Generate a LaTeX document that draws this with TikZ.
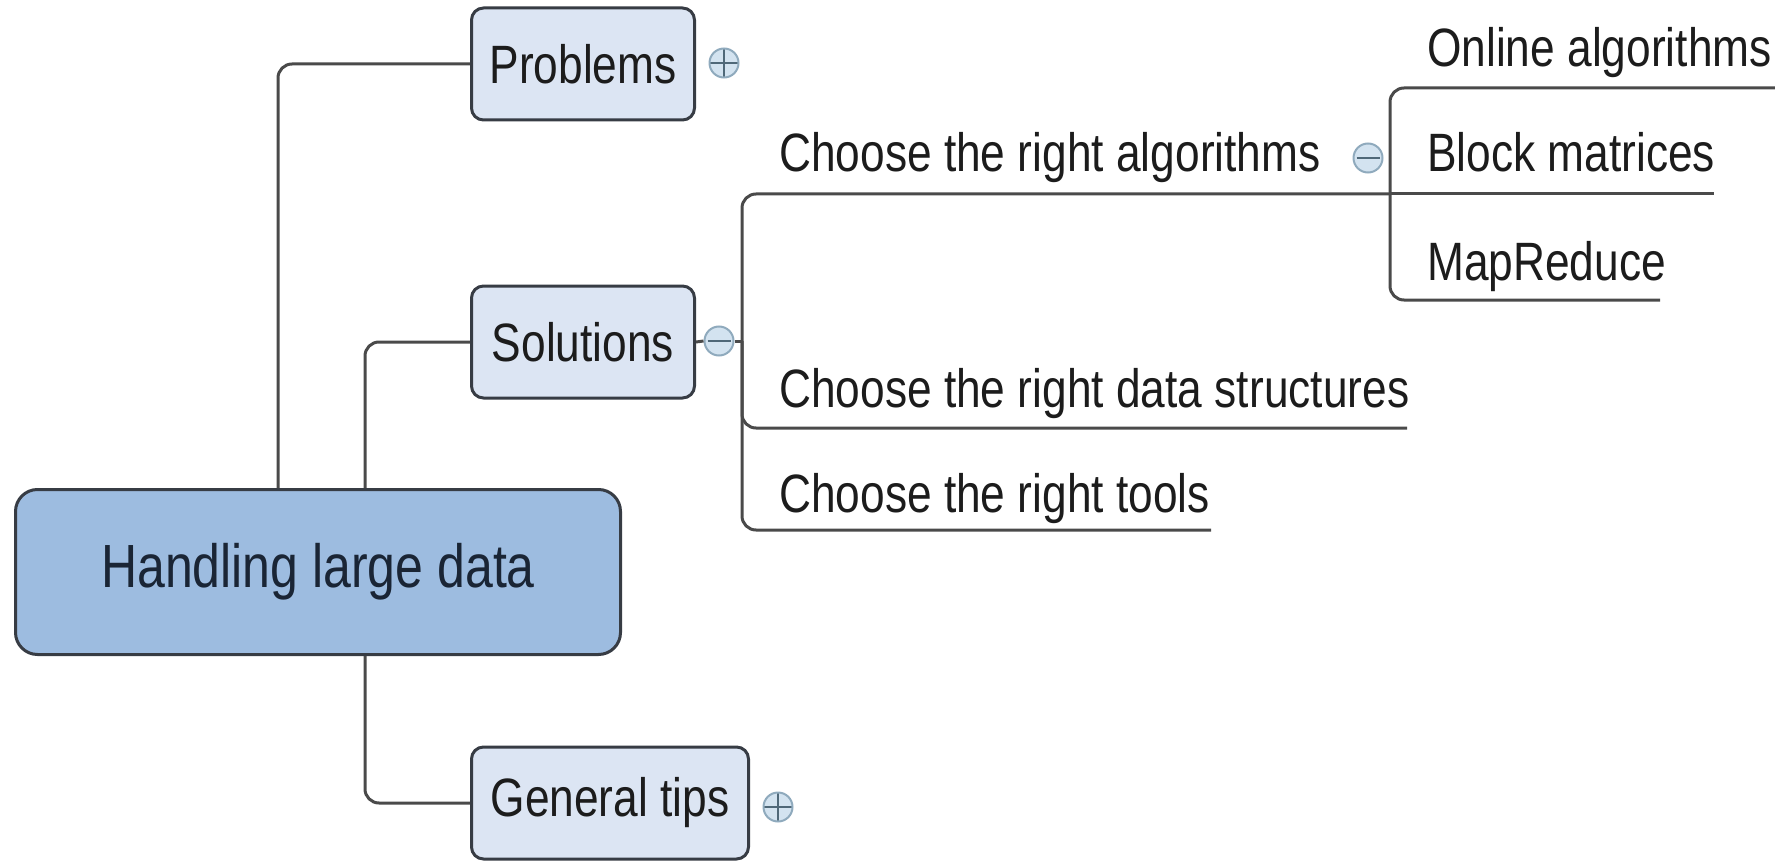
\documentclass[tikz,border=0pt]{standalone}
\usepackage{fontspec}
\setmainfont{Liberation Sans}[FakeStretch=0.82]
\usepackage{tikz}
\usetikzlibrary{calc}
\definecolor{boxline}{HTML}{373C44}
\definecolor{rootfill}{HTML}{9DBCE0}
\definecolor{boxfill}{HTML}{DCE5F3}
\definecolor{wire}{HTML}{4A4A4A}
\definecolor{iconfill}{HTML}{D3E3F0}
\definecolor{iconline}{HTML}{8FAABD}
\definecolor{iconmark}{HTML}{4F6878}
\definecolor{ink}{HTML}{1C1C1C}
\definecolor{rootink}{HTML}{1A2535}
\tikzset{topic/.style={shape=rectangle, rounded corners=12pt, draw=boxline, fill=boxfill, line width=3pt, text=ink, font=\fontsize{54}{60}\selectfont, minimum height=112pt}}
\tikzset{central/.style={topic, rounded corners=22pt, fill=rootfill, text=rootink, font=\fontsize{61}{70}\selectfont, minimum width=605pt, minimum height=165pt}}
\tikzset{leaf/.style={inner sep=0pt, anchor=base west, text=ink, font=\fontsize{54}{60}\selectfont}}
\tikzset{link/.style={draw=wire, line width=3pt, rounded corners=14pt}}
\tikzset{icon/.style={shape=circle, minimum size=29pt, inner sep=0pt, draw=iconline, fill=iconfill, line width=2pt}}
\tikzset{plusicon/.style={icon, path picture={\draw[iconmark, line width=1.5pt] (path picture bounding box.north) -- (path picture bounding box.south) (path picture bounding box.west) -- (path picture bounding box.east);}}}
\tikzset{minusicon/.style={icon, path picture={\draw[iconmark, line width=2pt] ([xshift=3pt]path picture bounding box.west) -- ([xshift=-3pt]path picture bounding box.east);}}}

\begin{document}
\begin{tikzpicture}[x=1pt,y=-1pt]
		\useasboundingbox (0,0) rectangle (1775,861);
		\node[central] (H) at (318,572) {Handling large data};
		\node[topic, minimum width=223pt] (P) at (583,64) {Problems};
		\node[topic, minimum width=223pt] (S) at (583,342) {Solutions};
		\node[topic, minimum width=277pt] (G) at (610,803) {General tips};
		\node[plusicon] (Pi) at (724,63) {};
		\node[minusicon] (Si) at (719,341) {};
		\node[plusicon] (Gi) at (778,807) {};
		\node[minusicon] (Ai) at (1368,158) {};
		\node[leaf] (A) at (779,172) {Choose the right algorithms};
		\node[leaf] (D) at (779,407) {Choose the right data structures};
		\node[leaf] (T) at (779,512) {Choose the right tools};
		\node[leaf] (O) at (1427,67) {Online algorithms};
		\node[leaf] (B) at (1427,172) {Block matrices};
		\node[leaf] (M) at (1427,280) {MapReduce};
		\coordinate (Sj) at (742,341);
		\coordinate (Aj) at (1390,194);
		\coordinate (Oe) at (1775,88);
		\coordinate (Be) at (1714,194);
		\coordinate (Me) at (1660,300);
		\coordinate (De) at (1407,428);
		\coordinate (Te) at (1211,530);
		\path [link] (P.west) -| ([xshift=-40pt]H.north);
		\path [link] (S.west) -| ([xshift=47pt]H.north);
		\path [link] (G.west) -| ([xshift=47pt]H.south);
		\path [link] (S.east) -- (Si.west);
		\path [link] (Si.east) -- (Sj);
		\path [link] (Aj) -| (Sj) |- (Te);
		\path [link] (Sj) |- (De);
		\path [link] (Oe) -| (Aj) |- (Me);
		\path [link] (Aj) -- (Be);
	\end{tikzpicture}
\end{document}
